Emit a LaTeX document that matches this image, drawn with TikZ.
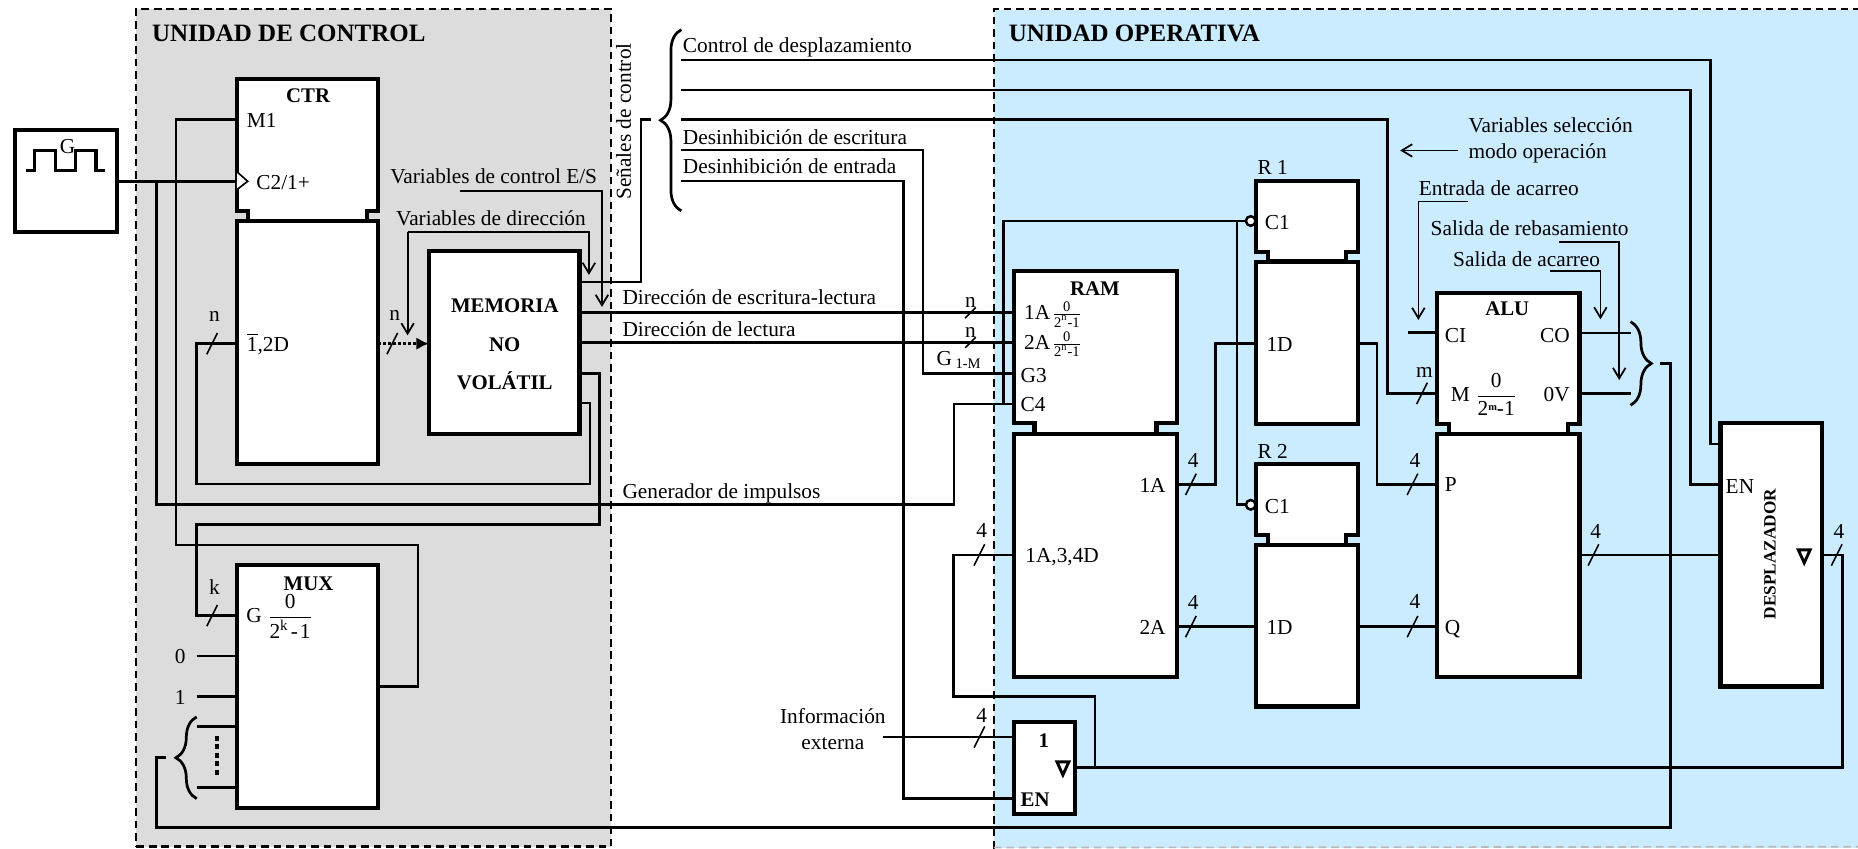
\documentclass[tikz,border=0pt]{standalone}
\usepackage{fontspec}
\setmainfont{Liberation Serif}
\usetikzlibrary{arrows.meta,calc,decorations.pathreplacing}
\definecolor{ctlgray}{HTML}{DCDCDC}
\definecolor{opblue}{HTML}{CBEBFF}
\tikzset{
  blockbox/.style={draw,line width=2pt,fill=white,inner sep=0pt,outer sep=0pt},
  ctlface/.style={fill=white,inner sep=0pt,outer sep=0pt},
  blockline/.style={line width=2pt,fill=white},
  wire/.style={line width=1.3pt},
  thinwire/.style={line width=0.8pt},
  note/.style={line width=0.85pt,-{Straight Barb[length=5pt,width=6pt]}},
  tick/.style={line width=0.75pt},
  lbl/.style={inner sep=0pt,text height=1.5ex,text depth=.25ex,yshift=-0.9pt},
  lblw/.style={lbl,anchor=west},
  lble/.style={lbl,anchor=east},
  title/.style={lblw,font=\bfseries\fontsize{12}{14}\selectfont},
  curly/.style={line width=1.3pt,decorate,decoration={brace,amplitude=10pt}},
  tristate/.style={line width=1.4pt,line join=miter}
}
\begin{document}
\begin{tikzpicture}[x=0.02cm,y=-0.02cm,font=\fontsize{10.25}{12}\selectfont]
\useasboundingbox (0,0) rectangle (1568,716);
% unit backgrounds
\node[fill=ctlgray,draw=black,line width=1.1pt,dash pattern=on 3.7pt off 2.3pt,inner sep=0pt,minimum width=8.01cm,minimum height=14.14cm] (ctlunit) at (315.25,361) {};
\node[fill=opblue,inner sep=0pt,minimum width=14.58cm,minimum height=14.16cm] (opunit) at (1203.5,362) {};
\draw[line width=1.1pt,dash pattern=on 3.7pt off 2.3pt] (opunit.south west) -- (opunit.north west) -- (opunit.north east);
\draw[line width=0.8pt,gray!55,dash pattern=on 3.7pt off 2.3pt] (opunit.south west)++(0,-1) -- ([yshift=1]opunit.south east);
\node[title] (ctltitle) at (128,28) {UNIDAD DE CONTROL};
\node[title] (optitle) at (851,28) {UNIDAD OPERATIVA};
% ports
\foreach \pname/\px/\py in {oscOut/99/153,ctrClk/200/153,clkTap/132/153,ctrM/200/101,ctrD/200/290,ctrOut/319/290,
  memIn/362/290,memCtl/489/238,memA/489/264,memB/489/289,memC/489/315,memD/489/340,
  braceIn/549/101,muxG/200/519.5,muxOut/320/579.4,mux0/200/553.6,mux1/200/588,muxA/200/613,muxB/200/664.7,
  free0/166/553.6,free1/166/588,freeA/166/613,freeB/166/664.7,braceOutA/140/639,braceOutB/1401/306.6,
  ramA/856/264,ramB/856/289,ramG/856/315,ramC/856/341,ramTap/847/341,ramD/856/468.3,ramOutA/993/408.7,ramOutB/993/528.8,
  sigA/575/50.6,sigB/575/76,sigC/575/101,sigD/575/126.6,sigE/575/152.7,
  despS/1452/374.7,despE/1452/408.7,despI/1452/468.3,despOut/1537.6/468.3,
  aluM/1213/332,aluCin/1213/280.7,aluCinF/1188.4/280.7,aluCO/1333/281,aluCOF/1376/281,aluOV/1333/332,aluOVF/1376/332,aluP/1213/408.7,aluQ/1213/528.8,aluOut/1333/468.3,
  rOneClk/1052/186.5,rTwoClk/1052/426,rTap/1043.8/186.5,rOneD/1060/290,rTwoD/1060/528.8,rOneOut/1146/290,rTwoOut/1146/528.8,
  bufIn/856/622,bufFree/745/622,bufEN/856/673.7,bufOut/908/647.5,bufTap/924/647.5}
  \coordinate (\pname) at (\px,\py);
% connectors, control side
\draw[wire] (oscOut) -- (ctrClk);
\draw[wire] (clkTap) |- (805,426) |- (ramC);
\draw[wire] (ctrM) -| (148.5,460) -| (352.7,579.4) -- (muxOut);
\draw[wire] (ctrD) -| (166,408.4) -| (498,340) -- (memD);
\draw[wire] (memC) -| (506,442.4) -| (166,519.5) -- (muxG);
\draw[line width=1.4pt,densely dotted,-{Latex[length=6pt,width=6pt]}] (ctrOut) -- (memIn);
\draw[wire] (memCtl) -| (541,101) -- (braceIn);
\draw[wire] (memA) -- (ramA);
\draw[wire] (memB) -- (ramB);
\foreach \fr/\tg in {free0/mux0,free1/mux1,freeA/muxA,freeB/muxB} \draw[wire] (\fr) -- (\tg);
\draw[wire] (braceOutA) -| (132,698.4) -| (1410,306.6) -- (braceOutB);
% connectors, operative side
\draw[wire] (sigA) -| (1443.6,374.7) -- (despS);
\draw[wire] (sigB) -| (1426.7,408.7) -- (despE);
\draw[wire] (sigC) -| (1170.8,332) -- (aluM);
\draw[wire] (sigD) -| (779,315) -- (ramG);
\draw[wire] (sigE) -| (762.4,673.7) -- (bufEN);
\draw[wire] (ramTap) |- (rOneClk);
\draw[wire] (rTap) |- (rTwoClk);
\draw[wire] (ramOutA) -| (1025.7,290) -- (rOneD);
\draw[wire] (ramOutB) -- (rTwoD);
\draw[wire] (rOneOut) -| (1162,408.7) -- (aluP);
\draw[wire] (rTwoOut) -- (aluQ);
\draw[wire] (aluOut) -- (despI);
\draw[wire] (aluCinF) -- (aluCin);
\draw[wire] (aluCO) -- (aluCOF);
\draw[wire] (aluOV) -- (aluOVF);
\draw[wire] (bufFree) -- (bufIn);
\draw[wire] (bufOut) -| (1554.7,468.3) -- (despOut);
\draw[wire] (bufTap) |- (804.6,587.9) |- (ramD);
% blocks
\node[blockbox,minimum width=1.72cm,minimum height=1.72cm] (osc) at (55.5,152.5) {};
\draw[line width=1.5pt] (22,144) -- (29,144) -- (29,127) -- (47,127) -- (47,144) -- (64,144) -- (64,127) -- (81,127) -- (81,144) -- (89,144);
\node[lbl] (oscg) at (57,123) {G};
\node[ctlface,minimum width=2.38cm,minimum height=2.22cm] (ctr) at (259.5,122.5) {};
\node[blockbox,minimum width=2.38cm,minimum height=4.11cm] (ctrb) at (259.5,289) {};
\draw[blockline] (ctr.south west) -- (ctr.north west) -- (ctr.north east) -- (ctr.south east) -- ++(-9,0) -- ++(0,8.5) -- ($(ctr.south west)+(9,8.5)$) -- ++(0,-8.5) -- cycle;
\node[blockbox,minimum width=2.54cm,minimum height=3.08cm] (mem) at (425.5,289) {};
\node[blockbox,minimum width=2.38cm,minimum height=4.1cm] (mux) at (259.5,579.5) {};
\node[ctlface,minimum width=2.74cm,minimum height=2.56cm] (ram) at (924.5,293) {};
\node[blockbox,minimum width=2.74cm,minimum height=4.1cm] (ramb) at (924.5,468.5) {};
\draw[blockline] (ram.south west) -- (ram.north west) -- (ram.north east) -- (ram.south east) -- ++(-17,0) -- ++(0,9) -- ($(ram.south west)+(17,9)$) -- ++(0,-9) -- cycle;
\node[ctlface,minimum width=1.72cm,minimum height=1.194cm] (rone) at (1103,182.5) {};
\node[blockbox,minimum width=1.72cm,minimum height=2.74cm] (roneb) at (1103,289.4) {};
\draw[blockline] (rone.south west) -- (rone.north west) -- (rone.north east) -- (rone.south east) -- ++(-10,0) -- ++(0,8.4) -- ($(rone.south west)+(10,8.4)$) -- ++(0,-8.4) -- cycle;
\node[ctlface,minimum width=1.72cm,minimum height=1.198cm] (rtwo) at (1103,421.4) {};
\node[blockbox,minimum width=1.72cm,minimum height=2.728cm] (rtwob) at (1103,528.1) {};
\draw[blockline] (rtwo.south west) -- (rtwo.north west) -- (rtwo.north east) -- (rtwo.south east) -- ++(-10,0) -- ++(0,8.5) -- ($(rtwo.south west)+(10,8.5)$) -- ++(0,-8.5) -- cycle;
\node[ctlface,minimum width=2.4cm,minimum height=2.216cm] (alu) at (1273,302.4) {};
\node[blockbox,minimum width=2.4cm,minimum height=4.1cm] (alub) at (1273,468.5) {};
\draw[blockline] (alu.south west) -- (alu.north west) -- (alu.north east) -- (alu.south east) -- ++(-10,0) -- ++(0,8.2) -- ($(alu.south west)+(10,8.2)$) -- ++(0,-8.2) -- cycle;
\node[blockbox,minimum width=1.712cm,minimum height=4.448cm] (desp) at (1494.8,468.2) {};
\node[blockbox,minimum width=1.03cm,minimum height=1.558cm] (buf) at (881.4,648) {};
% small marks on the blocks
\draw[thinwire,fill=white] (ctrb.north west |- 0,145) -- (209,153) -- (200,160);
\foreach \cname/\cy in {cone/186.5,ctwo/426}
  \node[draw,fill=white,circle,line width=1.2pt,minimum size=4.6pt,inner sep=0pt] (\cname) at (1055.5,\cy) {};
\foreach \tx/\ty in {897/643,1522.6/464} \draw[tristate] (\tx-5,\ty) -- (\tx+5,\ty) -- (\tx,\ty+11) -- cycle;
\draw[line width=2pt,dash pattern=on 2.4pt off 1.7pt] (183.4,621) -- (183.4,656);
% braces
\draw[curly] (575,178) -- (575,25);
\draw[curly] (166,674) -- (166,605);
\draw[curly] (1376,271.5) -- (1376,342);
% bus ticks
\foreach \bx/\by/\blab/\ly [count=\bi] in {179/290/n/265,331/290/n/264,179/519.5/k/495,826.5/468.3/4/447,826.5/622/4/603,1005/408.7/4/388,1005/528.8/4/508,1192/408.7/4/388,1192/528.8/4/507,1200/332/m/312,1344.7/468.3/4/448,1550/468.3/4/448}{
  \draw[tick] (\bx-4.5,\by+9) -- (\bx+4.5,\by-9);
  \node[lbl] (bus\bi) at (\bx+2,\ly) {\blab};
}
\foreach \bx/\by/\ly [count=\bi] in {819/264/253,819/289/278.5}{
  \draw[tick] (\bx-4.5,\by+4.5) -- (\bx+4.5,\by-4.5);
  \node[lbl] (addr\bi) at (\bx,\ly) {n};
}
% block texts
\node[lbl,font=\bfseries] (ctrt) at (260,80) {CTR};
\node[lbl,font=\bfseries] (mut) at (260.4,492) {MUX};
\node[lbl,font=\bfseries] (ramt) at (924,243) {RAM};
\node[lbl,font=\bfseries] (alut) at (1272,260) {ALU};
\node[lbl,font=\bfseries] (memt) at (426,257) {MEMORIA};
\node[lbl,font=\bfseries] (memu) at (426,290) {NO};
\node[lbl,font=\bfseries] (memv) at (426,322) {VOLÁTIL};
\node[lbl,font=\bfseries\fontsize{8.3}{10}\selectfont,rotate=90,yshift=0.9pt] (despt) at (1495,466) {DESPLAZADOR};
\node[lbl,font=\bfseries] (bufa) at (881,624) {1};
\node[lblw,font=\bfseries] (bufb) at (861,674) {EN};
\node[lblw] (ctrm) at (208,101) {M1};
\node[lblw] (ctrc) at (216,153) {C2/1+};
\node[lblw] (ctrd) at (208,290) {$\overline{\mbox{1}}$,2D};
\node[inner sep=0pt,anchor=west] (muxf) at (207.5,520) {G $\displaystyle\frac{\mbox{0}}{\mbox{2\textsuperscript{k}\kern1pt-\kern1pt1}}$};
\node[lble] (muxa) at (157,553) {0};
\node[lble] (muxb) at (157,588) {1};
\node[inner sep=0pt,anchor=west] (rama) at (864,265.5) {1A\kern0.6pt$\frac{\mbox{\scriptsize 0}}{\mbox{\scriptsize 2\textsuperscript{n}-1}}$};
\node[inner sep=0pt,anchor=west] (ramc) at (864,290.5) {2A\kern0.6pt$\frac{\mbox{\scriptsize 0}}{\mbox{\scriptsize 2\textsuperscript{n}-1}}$};
\node[lblw] (ramg) at (861,316) {G3};
\node[lblw] (ramh) at (861,341) {C4};
\node[lblw] (ramd) at (865,468) {1A,3,4D};
\node[lble] (rame) at (984,409) {1A};
\node[lble] (ramf) at (984,529) {2A};
\node[lblw] (ronec) at (1067,187) {C1};
\node[lblw] (roned) at (1068.5,290) {1D};
\node[lblw] (rtwoc) at (1067,427) {C1};
\node[lblw] (rtwod) at (1068.5,529) {1D};
\node[lblw] (ronet) at (1061,141) {R 1};
\node[lblw] (rtwot) at (1061,380) {R 2};
\node[lblw] (alup) at (1219,408) {P};
\node[lblw] (aluq) at (1219,529) {Q};
\node[lblw] (aluc) at (1219,282) {CI};
\node[lble] (aluo) at (1325,282) {CO};
\node[lble] (aluv) at (1325,332) {0V};
\node[inner sep=0pt,anchor=west] (alum) at (1224,333) {M $\displaystyle\frac{\mbox{0}}{\mbox{2\raisebox{.5ex}{\fontsize{5}{6}\selectfont\bfseries m}-1}}$};
\node[lblw] (despn) at (1456,410) {EN};
% signal names
\node[lbl,rotate=90,yshift=0.9pt] (sen) at (529,101) {Señales de control};
\node[lblw] (sa) at (576,38) {Control de desplazamiento};
\node[lblw] (sd) at (576,115) {Desinhibición de escritura};
\node[lblw] (se) at (576,140) {Desinhibición de entrada};
\node[lblw] (ma) at (525,250) {Dirección de escritura-lectura};
\node[lblw] (mb) at (525,277) {Dirección de lectura};
\node[lblw] (mg) at (525,414) {Generador de impulsos};
\node[lblw] (gm) at (790,302) {G\,\textsubscript{\scriptsize 1-M}};
\node[lblw] (ex) at (658,604) {Información};
\node[lblw] (ey) at (676,626) {externa};
\node[lblw] (vc) at (329,148) {Variables de control E/S};
\node[lblw] (vd) at (334,184) {Variables de dirección};
\node[lblw] (vs) at (1239,105) {Variables selección};
\node[lblw] (vm) at (1239,127) {modo operación};
\node[lblw] (ea) at (1197,158) {Entrada de acarreo};
\node[lblw] (sr) at (1207,192) {Salida de rebasamiento};
\node[lblw] (sc) at (1226,218) {Salida de acarreo};
% pointers from the names
\draw[note] (388,161) -| (508,259);
\draw[note] (344,195.5) -- (497,195.5) -- (497,232);
\draw[note] (344,195.5) -- (344,283);
\draw[note] (1230.7,127) -- (1181.6,127);
\draw[note] (1239,170) -| (1197,270);
\draw[note] (1316,204) -| (1366.5,320.7);
\draw[note] (1308,229) -| (1350.6,269.5);
\end{tikzpicture}
\end{document}
